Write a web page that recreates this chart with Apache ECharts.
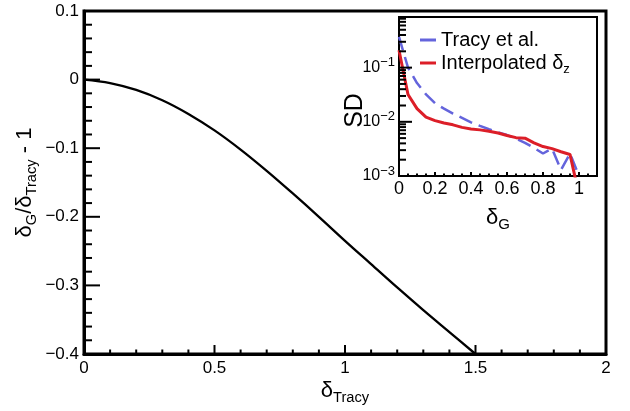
<!DOCTYPE html>
<html>
<head>
<meta charset="utf-8">
<script src="https://cdn.jsdelivr.net/npm/echarts@6/dist/echarts.min.js"></script>
<style>
  html, body { margin: 0; padding: 0; background: #fff; }
  #chart { width: 630px; height: 411px; }
</style>
</head>
<body>
<div id="chart"></div>
<script>
// Main curve: relative deviation δG/δTracy - 1 as a function of δTracy
const deltaTracy = [0, 0.1, 0.2, 0.3, 0.4, 0.5, 0.6, 0.7, 0.8, 0.9, 1.0, 1.1, 1.2, 1.3, 1.4, 1.5];
const relDeviation = [0, -0.005, -0.015, -0.030, -0.050, -0.074, -0.102, -0.133, -0.166, -0.200,
                      -0.235, -0.269, -0.303, -0.336, -0.368, -0.400];

// Inset: standard deviation versus δG
const deltaG = [0, 0.05, 0.1, 0.15, 0.2, 0.25, 0.3, 0.35, 0.4, 0.45, 0.5,
                0.55, 0.6, 0.65, 0.7, 0.75, 0.8, 0.85, 0.9, 0.95, 1.0];
const sdTracy = [0.37, 0.10, 0.052, 0.032, 0.022, 0.0175, 0.0142, 0.0118, 0.0098, 0.0084, 0.0073,
                 0.0064, 0.0057, 0.0049, 0.0041, 0.0033, 0.0026, 0.0032, 0.0013, 0.0026, 0.001];
const sdInterp = [0.21, 0.032, 0.0175, 0.0122, 0.0105, 0.0095, 0.0088, 0.0079, 0.0074, 0.0071, 0.0067,
                  0.0062, 0.0056, 0.0051, 0.0050, 0.0041, 0.0035, 0.0032, 0.0028, 0.0025, 0.00045];

// Axis ranges
const mainXRange = [0, 2];
const mainYRange = [-0.4, 0.1];
const insetXRange = [0, 1.1];
const insetYRange = [0.001, 0.86];

// Tick positions
const mainXMajor = [0, 0.5, 1, 1.5, 2];
const mainXMinor = [0.1, 0.2, 0.3, 0.4, 0.6, 0.7, 0.8, 0.9, 1.1, 1.2, 1.3, 1.4, 1.6, 1.7, 1.8, 1.9];
const mainYMajor = [-0.4, -0.3, -0.2, -0.1, 0, 0.1];
const mainYMinor = [-0.38, -0.36, -0.34, -0.32, -0.28, -0.26, -0.24, -0.22, -0.18, -0.16,
                    -0.14, -0.12, -0.08, -0.06, -0.04, -0.02, 0.02, 0.04, 0.06, 0.08];
const insetXMajor = [0, 0.2, 0.4, 0.6, 0.8, 1.0];
const insetXMinor = [0.05, 0.1, 0.15, 0.25, 0.3, 0.35, 0.45, 0.5, 0.55, 0.65, 0.7, 0.75,
                     0.85, 0.9, 0.95, 1.05];
const insetYMajor = [0.001, 0.01, 0.1];
const insetYMinor = [0.002, 0.003, 0.004, 0.005, 0.006, 0.007, 0.008, 0.009,
                     0.02, 0.03, 0.04, 0.05, 0.06, 0.07, 0.08, 0.09,
                     0.2, 0.3, 0.4, 0.5, 0.6, 0.7, 0.8];
const insetDecadeLabels = { '-3': '\u22123', '-2': '\u22122', '-1': '\u22121' };

const seriesNames = ['Tracy et al.', 'Interpolated \u03b4z'];

const FONT = '"Liberation Sans", Arial, Helvetica, sans-serif';
const BLUE = '#6464dc';
const RED = '#dc1e28';

const pairs = (xs, ys) => xs.map((x, i) => [x, ys[i]]);
const fmtDecimal = v => {
  const r = Math.round(v * 10) / 10;
  return (r === 0 ? '0' : String(r)).replace('-', '\u2212');
};
const fmtPow = v => {
  const e = Math.round(Math.log10(v));
  if (Math.abs(v - Math.pow(10, e)) / v > 0.01) return '';
  return '{b|10}{e|' + insetDecadeLabels[String(e)] + '}';
};
const lineStyleOf = w => ({ color: '#000', width: w });

// Inward-pointing tick marks, placed through the axes' own scales.
// points: [x, y] data positions on a frame edge; (dx, dy): tick direction and length in pixels.
function tickSeries(axisIndex, points, dx, dy) {
  return {
    type: 'custom', coordinateSystem: 'cartesian2d',
    xAxisIndex: axisIndex, yAxisIndex: axisIndex,
    data: points, silent: true, clip: false, z: 6,
    renderItem: (params, api) => {
      const p = api.coord([api.value(0), api.value(1)]);
      return {
        type: 'line',
        shape: { x1: p[0], y1: p[1], x2: p[0] + dx, y2: p[1] + dy },
        style: { stroke: '#000', lineWidth: 2 }
      };
    }
  };
}
const onBottom = (vals, yMin) => vals.map(v => [v, yMin]);
const onLeft = (vals, xMin) => vals.map(v => [xMin, v]);

const chart = echarts.init(document.getElementById('chart'), null, { renderer: 'canvas' });
chart.setOption({
  animation: false,
  backgroundColor: '#fff',
  textStyle: { fontFamily: FONT, color: '#000' },
  grid: [
    { left: 84, top: 11, width: 522, height: 343, show: true, borderColor: '#000', borderWidth: 3,
      backgroundColor: 'transparent', outerBoundsMode: 'none', containLabel: false },
    { left: 399, top: 17, width: 198, height: 159, show: true, borderColor: '#000', borderWidth: 2,
      backgroundColor: '#fff', outerBoundsMode: 'none', containLabel: false }
  ],
  xAxis: [
    {
      gridIndex: 0, type: 'value', min: mainXRange[0], max: mainXRange[1], interval: 0.5,
      axisLine: { show: true, onZero: false, lineStyle: lineStyleOf(3) },
      axisTick: { show: false }, minorTick: { show: false },
      splitLine: { show: false }, minorSplitLine: { show: false },
      axisLabel: { color: '#000', fontSize: 17, fontFamily: FONT, margin: 6, formatter: fmtDecimal },
      name: '{d|\u03b4}{s|Tracy}', nameLocation: 'middle', nameGap: 22, nameMoveOverlap: false,
      nameTextStyle: { rich: {
        d: { fontSize: 22, fontFamily: FONT, color: '#000' },
        s: { fontSize: 14.7, fontFamily: FONT, color: '#000', padding: [14, 0, 0, 0] }
      } }
    },
    {
      gridIndex: 1, type: 'value', min: insetXRange[0], max: insetXRange[1], interval: 0.2,
      axisLine: { show: true, onZero: false, lineStyle: lineStyleOf(2) },
      axisTick: { show: false }, minorTick: { show: false },
      splitLine: { show: false }, minorSplitLine: { show: false },
      axisLabel: { color: '#000', fontSize: 18, fontFamily: FONT, margin: 4, showMaxLabel: false,
                   formatter: v => (v > 1.05 ? '' : fmtDecimal(v)) },
      name: '{d|\u03b4}{s|G}', nameLocation: 'middle', nameGap: 27, nameMoveOverlap: false,
      nameTextStyle: { rich: {
        d: { fontSize: 22, fontFamily: FONT, color: '#000' },
        s: { fontSize: 15, fontFamily: FONT, color: '#000', padding: [14, 0, 0, 0] }
      } }
    }
  ],
  yAxis: [
    {
      gridIndex: 0, type: 'value', min: mainYRange[0], max: mainYRange[1], interval: 0.1,
      axisLine: { show: true, onZero: false, lineStyle: lineStyleOf(3) },
      axisTick: { show: false }, minorTick: { show: false },
      splitLine: { show: false }, minorSplitLine: { show: false },
      axisLabel: { color: '#000', fontSize: 17, fontFamily: FONT, margin: 5, formatter: fmtDecimal },
      name: '{d|\u03b4}{s|G}{d|/\u03b4}{s|Tracy}{d| - 1}', nameLocation: 'middle', nameRotate: 90,
      nameGap: 45, nameMoveOverlap: false,
      nameTextStyle: { rich: {
        d: { fontSize: 22, fontFamily: FONT, color: '#000' },
        s: { fontSize: 14.7, fontFamily: FONT, color: '#000', padding: [14, 0, 0, 0] }
      } }
    },
    {
      gridIndex: 1, type: 'log', logBase: 10, min: insetYRange[0], max: insetYRange[1],
      axisLine: { show: true, onZero: false, lineStyle: lineStyleOf(2) },
      axisTick: { show: false }, minorTick: { show: false },
      splitLine: { show: false },
      axisLabel: { color: '#000', fontSize: 16, fontFamily: FONT, margin: 4, showMaxLabel: false,
                   formatter: fmtPow,
                   rich: {
                     b: { fontSize: 16, fontFamily: FONT, color: '#000' },
                     e: { fontSize: 13, fontFamily: FONT, color: '#000', padding: [0, 0, 10, 0] }
                   } },
      name: 'SD', nameLocation: 'middle', nameRotate: 90, nameGap: 31, nameMoveOverlap: false,
      nameTextStyle: { fontSize: 25, fontFamily: FONT, color: '#000', padding: [0, 28, 0, 0] }
    }
  ],
  legend: {
    left: 415, top: 25, orient: 'vertical', itemWidth: 16, itemHeight: 3, itemGap: 3,
    data: seriesNames.map(n => ({ name: n, icon: 'rect' })),
    textStyle: { fontSize: 20, fontFamily: FONT, color: '#000',
      rich: {
        n: { fontSize: 20, fontFamily: FONT, color: '#000' },
        s: { fontSize: 13, fontFamily: FONT, color: '#000', padding: [12, 0, 0, 0] }
      } },
    formatter: name => name === seriesNames[1] ? '{n|Interpolated \u03b4}{s|z}' : '{n|' + name + '}'
  },
  series: [
    {
      type: 'line', xAxisIndex: 0, yAxisIndex: 0, data: pairs(deltaTracy, relDeviation),
      smooth: 0.35, showSymbol: false, symbol: 'none',
      lineStyle: { color: '#000', width: 2.3 }, z: 3
    },
    {
      name: seriesNames[0], type: 'line', xAxisIndex: 1, yAxisIndex: 1, data: pairs(deltaG, sdTracy),
      symbol: 'none', clip: true,
      itemStyle: { color: BLUE },
      lineStyle: { color: BLUE, width: 2.5, type: [14, 7] }, z: 4
    },
    {
      name: seriesNames[1], type: 'line', xAxisIndex: 1, yAxisIndex: 1, data: pairs(deltaG, sdInterp),
      symbol: 'none', clip: true,
      itemStyle: { color: RED },
      lineStyle: { color: RED, width: 3 }, z: 5
    },
    // main frame ticks
    tickSeries(0, onBottom(mainXMajor, mainYRange[0]), 0, -9),
    tickSeries(0, onBottom(mainXMinor, mainYRange[0]), 0, -4.5),
    tickSeries(0, onLeft(mainYMajor, mainXRange[0]), 16, 0),
    tickSeries(0, onLeft(mainYMinor, mainXRange[0]), 8, 0),
    // inset ticks
    tickSeries(1, onBottom(insetXMajor, insetYRange[0]), 0, -4),
    tickSeries(1, onBottom(insetXMinor, insetYRange[0]), 0, -2.5),
    tickSeries(1, onLeft(insetYMajor, insetXRange[0]), 13, 0),
    tickSeries(1, onLeft(insetYMinor, insetXRange[0]), 7, 0)
  ]
});
</script>
</body>
</html>
